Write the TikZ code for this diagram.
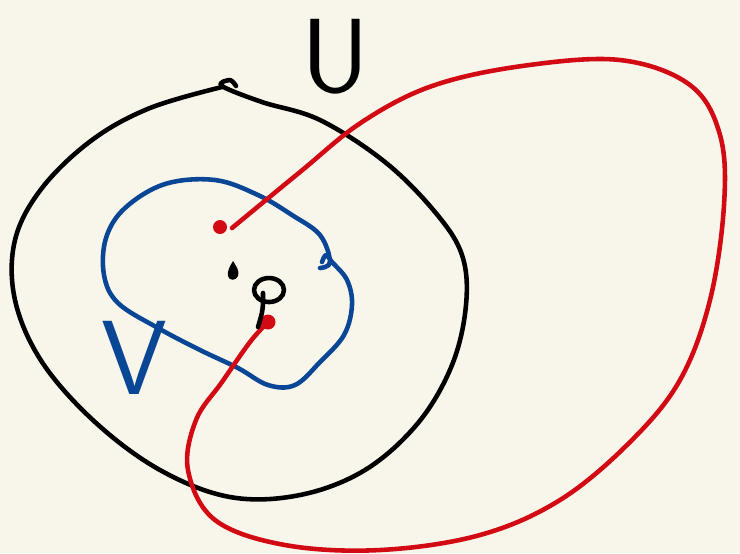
\documentclass[tikz,border=0pt]{standalone}
\usepackage{tikz}
\usetikzlibrary{calc}
\definecolor{paper}{RGB}{248,246,235}
\definecolor{inkred}{RGB}{210,10,20}
\definecolor{inkblue}{RGB}{10,70,150}

\begin{document}
\begin{tikzpicture}[x=0.01cm, y=-0.01cm,
    pen/.style={line width=1.3pt, line cap=round, line join=round},
    label/.style={font=\sffamily\fontsize{30}{30}\selectfont, inner sep=0pt}
]
    \fill[paper] (0,0) rectangle (740,553);
    \useasboundingbox (0,0) rectangle (740,553);

    % outer set
    \draw[pen, black] plot[smooth, tension=0.6] coordinates {
        (236,86) (230,80) (222,86) (262,102) (320,120) (385,162) (435,212) (462,255)
        (466,305) (452,365) (418,423) (365,470) (300,495) (230,497) (160,470)
        (95,422) (42,362) (15,300) (15,240) (42,188) (92,140) (150,108) (222,87)};

    % inner set
    \draw[pen, inkblue] plot[smooth, tension=0.6] coordinates {
        (322,262) (326,255) (332,262) (347,280) (352,305) (344,335) (320,362) (295,385)
        (268,385) (238,368) (200,350) (158,328) (118,303) (104,275) (106,238)
        (125,208) (165,184) (215,180) (258,195) (292,215) (320,235) (330,262) (320,268)};

    % path
    \draw[pen, inkred] plot[smooth, tension=0.6] coordinates {
        (232,228) (300,172) (362,122) (432,86) (522,66) (620,60) (690,85)
        (720,135) (724,205) (710,300) (680,380) (630,442) (560,500) (480,535)
        (380,550) (285,545) (215,520) (188,470) (196,420) (222,382) (250,342) (268,322)};

    % points
    \fill[inkred] (220,227) circle (7);
    \fill[inkred] (268,322) circle (7.5);
    \fill[black] (233,261) .. controls (236,266) and (240,271) .. (238,276)
        .. controls (236,281) and (229,281) .. (228,276)
        .. controls (227,271) and (230,266) .. (233,261) -- cycle;
    \draw[pen, black] (269,290) ellipse (15 and 12);
    \draw[pen, black] (263,293) .. controls (263,310) .. (258,327);

    \node[label, black] (uset) at (335,57) {U};
    \node[label, inkblue] (vset) at (134,358) {V};
\end{tikzpicture}
\end{document}
